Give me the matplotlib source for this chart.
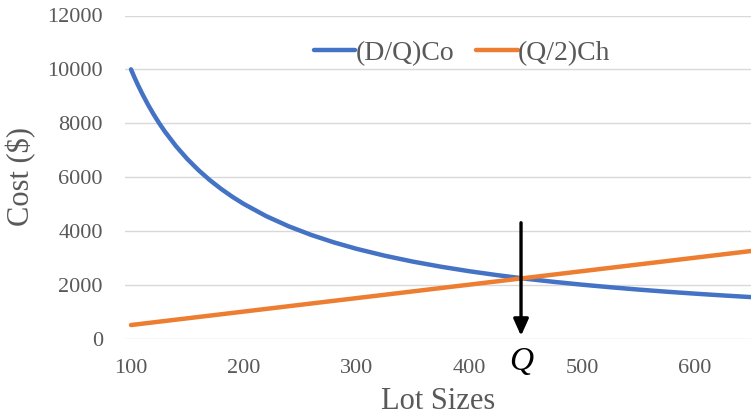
import matplotlib
matplotlib.use("Agg")
import matplotlib.pyplot as plt

# Lot sizes and costs
lot_sizes = [100, 103, 106, 110, 115, 120, 125, 130, 140, 150, 160, 170, 180, 190, 200,
             220, 240, 260, 280, 300, 325, 350, 375, 400, 425, 450, 475, 500, 525,
             550, 575, 600, 625, 650]
ordering_cost = [10000, 9709, 9434, 9091, 8696, 8333, 8000, 7692, 7143, 6667, 6250,
                 5882, 5556, 5263, 5000, 4545, 4167, 3846, 3571, 3333, 3077, 2857,
                 2667, 2500, 2353, 2222, 2105, 2000, 1905, 1818, 1739, 1667, 1600, 1538]
holding_cost = [500, 515, 530, 550, 575, 600, 625, 650, 700, 750, 800, 850, 900, 950,
                1000, 1100, 1200, 1300, 1400, 1500, 1625, 1750, 1875, 2000, 2125, 2250,
                2375, 2500, 2625, 2750, 2875, 3000, 3125, 3250]
series_names = ["(D/Q)Co", "(Q/2)Ch"]
x_ticks = [100, 200, 300, 400, 500, 600]
y_ticks = [0, 2000, 4000, 6000, 8000, 10000, 12000]
q_pos = 446
arrow_top = 4300
arrow_tip = 100

W, H = 751, 417
fig = plt.figure(figsize=(W / 100, H / 100), dpi=100)
ax = fig.add_axes([125 / W, (H - 338.5) / H, 1 - 125 / W, (338.5 - 15.5) / H])

gray = "#595959"
serif = "Liberation Serif"

ax.plot(lot_sizes, ordering_cost, color="#4472C4", lw=3.2, label=series_names[0],
        solid_capstyle="round", solid_joinstyle="round", zorder=3)
ax.plot(lot_sizes, holding_cost, color="#ED7D31", lw=3.2, label=series_names[1],
        solid_capstyle="round", solid_joinstyle="round", zorder=3)

ax.set_xlim(94.7, 650)
ax.set_ylim(0, 12000)
ax.set_xticks(x_ticks)
ax.set_yticks(y_ticks)
ax.grid(axis="y", color="#D9D9D9", lw=1.0)
ax.set_axisbelow(True)
for s in ax.spines.values():
    s.set_visible(False)
ax.tick_params(length=0, labelcolor=gray, labelsize=16)
ax.tick_params(axis="y", pad=16)
ax.tick_params(axis="x", pad=15)
for lab in ax.get_xticklabels() + ax.get_yticklabels():
    lab.set_fontfamily(serif)

ax.set_xlabel("Lot Sizes", fontsize=22, color=gray, family=serif, labelpad=6)
ax.set_ylabel("Cost ($)", fontsize=22, color=gray, family=serif, labelpad=8)

ax.annotate("", xy=(q_pos, arrow_tip), xytext=(q_pos, arrow_top),
            arrowprops=dict(arrowstyle="-|>,head_width=0.45,head_length=1.0",
                            color="black", lw=2.4, shrinkA=0, shrinkB=0), zorder=5)
ax.text(q_pos, -850, "Q", fontsize=24, style="italic", family=serif,
        ha="center", va="center", color="black", clip_on=False)

leg = ax.legend(loc="center", bbox_to_anchor=(462 / W, 1 - 53 / H),
                bbox_transform=fig.transFigure, ncol=2, frameon=False,
                handlelength=1.5, handletextpad=0.0, columnspacing=0.8,
                prop={"family": serif, "size": 20})
for t in leg.get_texts():
    t.set_color(gray)
for l in leg.get_lines():
    l.set_linewidth(3.2)

fig.savefig("out.png", dpi=100)
